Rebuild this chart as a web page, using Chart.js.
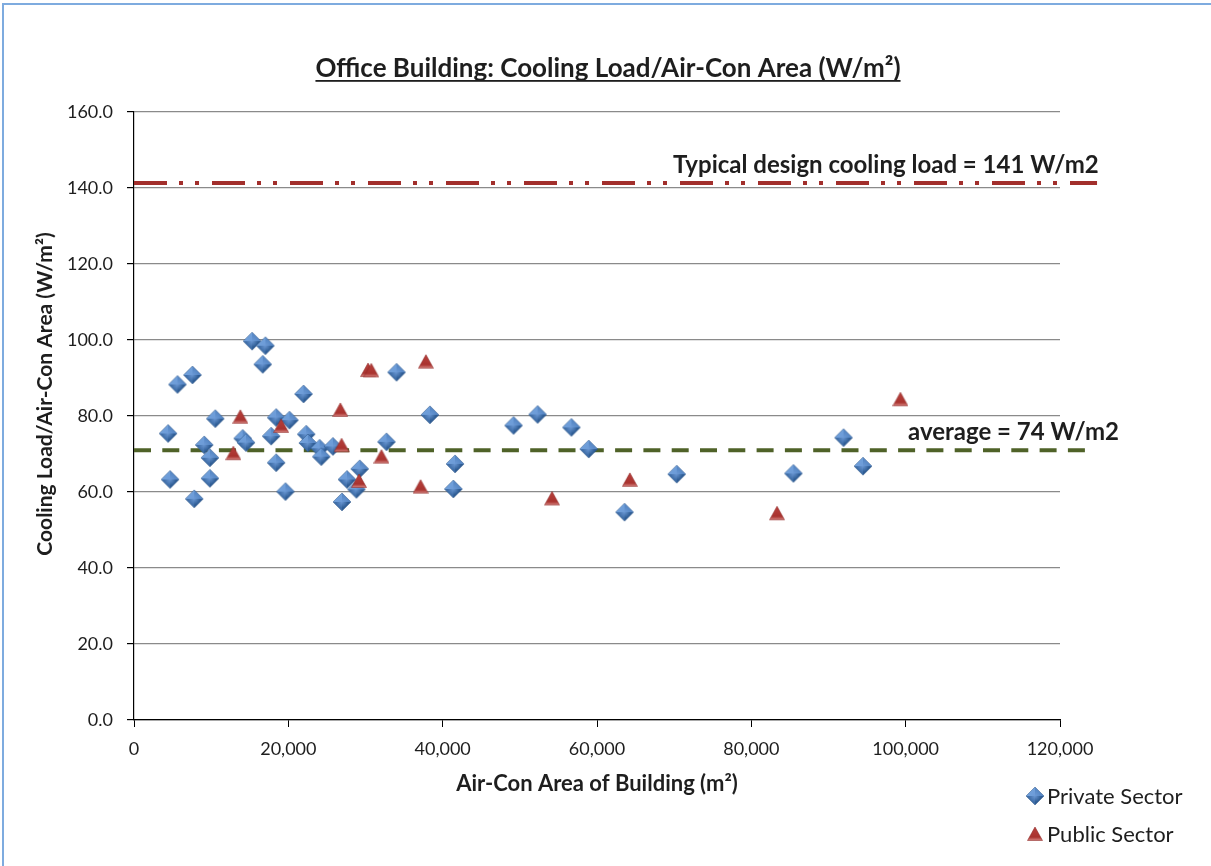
<!DOCTYPE html>
<html><head><meta charset="utf-8">
<script src="https://cdn.jsdelivr.net/npm/chart.js@4.4.1/dist/chart.umd.min.js"></script>
<style>html,body{margin:0;padding:0;background:#fff;}canvas{display:block;}</style>
</head><body>
<canvas id="c" width="1211" height="866"></canvas>
<script>
// ---- data ----
const privateX = [15300,17030,16680,5630,7580,21970,10530,18420,20150,4420,14080,14520,17770,22320,22530,9100,9840,24050,24270,18420,4680,9840,7800,19630,25780,34020,38350,49180,32720,29250,27600,28820,26950,41600,41380,52300,56680,58930,70330,63570,91950,85450,94470];
const privateY = [99.7,98.5,93.6,88.3,90.8,85.8,79.3,79.6,78.9,75.4,74.1,73.0,74.7,75.2,72.9,72.4,69.0,71.5,69.3,67.7,63.3,63.6,58.2,60.1,72.0,91.5,80.3,77.5,73.2,66.1,63.3,60.7,57.4,67.4,60.8,80.4,77.0,71.3,64.7,54.7,74.3,64.9,66.8];
const publicX = [13780,19070,12870,30330,30750,37830,26740,26900,32070,29160,37140,64260,54170,99320,83330];
const publicY = [79.8,77.4,70.2,92.1,92.0,94.3,81.6,72.3,69.3,62.9,61.4,63.2,58.3,84.4,54.4];
const designLoad = 141.3;
const averageLoad = 71.0;
const designLineX = [0, 124800];
const averageLineX = [0, 124200];
const seriesNames = ['Private Sector', 'Public Sector'];
const titleText = 'Office Building: Cooling Load/Air-Con Area (W/m\u00B2)';
const xTitle = 'Air-Con Area of Building (m\u00B2)';
const yTitle = 'Cooling Load/Air-Con Area (W/m\u00B2)';
const designLabel = 'Typical design cooling load = 141 W/m2';
const averageLabel = 'average = 74 W/m2';

const FONT = 'Lato, "Open Sans", sans-serif';
const TXT = '#1e1e1e';

function makeDiamond(){
  const c = document.createElement('canvas'); c.width = 20; c.height = 20;
  const g = c.getContext('2d');
  const T=[10,1],R=[19,10],B=[10,19],L=[1,10],C=[10,10];
  const facet=(a,b,col)=>{g.beginPath();g.moveTo(a[0],a[1]);g.lineTo(b[0],b[1]);g.lineTo(C[0],C[1]);g.closePath();g.fillStyle=col;g.fill();};
  facet(L,T,'#6f9fda'); facet(T,R,'#5788c6'); facet(R,B,'#2e5c94'); facet(B,L,'#3f6ea8');
  const rg = g.createRadialGradient(10,10,0,10,10,6);
  rg.addColorStop(0,'rgba(110,155,215,0.9)'); rg.addColorStop(1,'rgba(110,155,215,0)');
  g.fillStyle = rg; g.beginPath(); g.moveTo(T[0],T[1]); g.lineTo(R[0],R[1]); g.lineTo(B[0],B[1]); g.lineTo(L[0],L[1]); g.closePath(); g.fill();
  g.strokeStyle='rgba(40,80,130,0.6)'; g.lineWidth=0.8; g.stroke();
  return c;
}
function makeTriangle(){
  const c = document.createElement('canvas'); c.width = 16; c.height = 16;
  const g = c.getContext('2d');
  g.beginPath(); g.moveTo(8,1); g.lineTo(15.5,14.5); g.lineTo(0.5,14.5); g.closePath();
  const lg = g.createLinearGradient(0,1,0,14.5);
  lg.addColorStop(0,'#b8403c'); lg.addColorStop(0.75,'#a9332f'); lg.addColorStop(1,'#d7837f');
  g.fillStyle = lg; g.fill();
  g.strokeStyle='rgba(140,40,38,0.7)'; g.lineWidth=0.8; g.stroke();
  return c;
}
const diamondImg = makeDiamond();
const triangleImg = makeTriangle();

const pts = (xs, ys) => xs.map((x,i)=>({x, y: ys[i]}));

const decor = {
  id: 'decor',
  beforeDraw(chart){
    const ctx = chart.ctx; ctx.save();
    ctx.fillStyle = '#fff'; ctx.fillRect(0,0,chart.width,chart.height);
    ctx.strokeStyle = '#7eabdf'; ctx.lineWidth = 2;
    ctx.strokeRect(3,4,chart.width+20,chart.height+20);
    ctx.restore();
  },
  afterDraw(chart){
    const ctx = chart.ctx; ctx.save();
    // title
    ctx.fillStyle = TXT; ctx.font = 'bold 26px ' + FONT;
    ctx.textAlign = 'center'; ctx.textBaseline = 'alphabetic';
    const cx = 608, by = 77;
    ctx.fillText(titleText, cx, by);
    const w = ctx.measureText(titleText).width;
    ctx.fillRect(cx - w/2, by + 3, w, 1.8);
    // y-axis title
    ctx.save();
    ctx.translate(45, 394); ctx.rotate(-Math.PI/2);
    ctx.font = 'bold 21px ' + FONT; ctx.textBaseline = 'middle';
    ctx.fillText(yTitle, 0, 0);
    ctx.restore();
    // annotations
    ctx.font = 'bold 24px ' + FONT; ctx.textAlign = 'left';
    ctx.fillText(designLabel, 673, 173);
    ctx.fillText(averageLabel, 908, 440);
    // legend
    ctx.font = '22px ' + FONT; ctx.textBaseline = 'middle';
    ctx.drawImage(diamondImg, 1035-10, 796-10);
    ctx.fillText(seriesNames[0], 1047, 797);
    ctx.drawImage(triangleImg, 1035-8, 834-8);
    ctx.fillText(seriesNames[1], 1047, 835);
    ctx.restore();
  }
};

new Chart(document.getElementById('c'), {
  type: 'scatter',
  data: {
    datasets: [
      { label: seriesNames[0], data: pts(privateX, privateY), pointStyle: diamondImg, pointRadius: 9, pointHoverRadius: 9, order: 1 },
      { label: seriesNames[1], data: pts(publicX, publicY), pointStyle: triangleImg, pointRadius: 8, pointHoverRadius: 8, order: 0 },
      { label: 'design', data: designLineX.map(x=>({x, y: designLoad})), showLine: true, pointRadius: 0, borderColor: '#a22f2c', borderWidth: 4, borderDash: [33,12,4,12,4,13], clip: false, order: 3 },
      { label: 'average', data: averageLineX.map(x=>({x, y: averageLoad})), showLine: true, pointRadius: 0, borderColor: '#4f6228', borderWidth: 4, borderDash: [17,11.3], clip: false, order: 2 }
    ]
  },
  options: {
    responsive: false, animation: false,
    layout: { padding: { top: 112, right: 151, left: 0, bottom: 0 } },
    plugins: { legend: { display: false }, tooltip: { enabled: false }, title: { display: false } },
    scales: {
      x: {
        type: 'linear', min: 0, max: 120000,
        ticks: { stepSize: 20000, color: TXT, font: { family: FONT, size: 18 }, padding: 11, maxRotation: 0,
                 callback: v => v.toLocaleString('en-US') },
        grid: { drawOnChartArea: false, drawTicks: true, tickLength: 7, tickColor: '#000' },
        border: { display: true, color: '#000', width: 1.2 },
        title: { display: true, text: xTitle, color: TXT, font: { family: FONT, size: 22, weight: 'bold' }, padding: { top: 0, bottom: 69 } },
        afterFit: s => { s.height = 146; }
      },
      y: {
        type: 'linear', min: 0, max: 160,
        ticks: { stepSize: 20, color: TXT, font: { family: FONT, size: 18 }, padding: 14,
                 callback: v => Number(v).toFixed(1) },
        grid: { color: '#8a8a8a', lineWidth: 1.2, tickLength: 7, tickColor: '#000' },
        border: { display: true, color: '#000', width: 1.2 },
        title: { display: false },
        afterFit: s => { s.width = 134; }
      }
    }
  },
  plugins: [decor]
});
</script>
</body></html>
